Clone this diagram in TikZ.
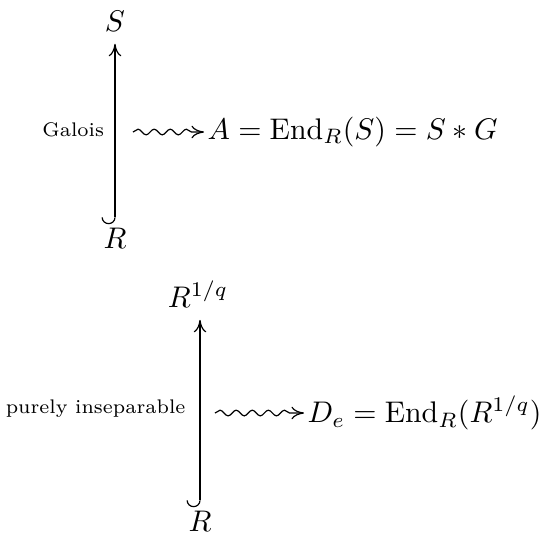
\documentclass[tikz,border=0pt]{standalone}
\usepackage{amsmath,amssymb}
\usetikzlibrary{arrows.meta,decorations.pathmorphing,positioning}

\begin{document}
\begin{tikzpicture}[
    x=0.335pt, y=-0.335pt,
    >={To[length=4.2pt, width=4.2pt]},
    obj/.style={inner sep=1pt},
    expr/.style={inner sep=1pt, anchor=west},
    lbl/.style={font=\fontsize{6.6}{8}\selectfont, inner sep=1pt},
    incl/.style={{Hooks[right, width=9pt, length=2.3pt]}->, shorten >=3pt},
    squig/.style={->, decorate, decoration={snake, amplitude=0.95pt,
                  segment length=5.4pt, post length=3pt}}
  ]
  \useasboundingbox (0,0) rectangle (547,534);
  % Galois extension
  \node[obj] (S) at (115,21) {$S$};
  \node[obj] (R) at (115,238) {$R$};
  \draw[incl] (R) -- (S) node[lbl, midway, left=2.5pt] {Galois};
  \coordinate (g) at (133,132);
  \node[expr] (A) at (204,132) {$A = \operatorname{End}_R(S) = S * G$};
  \draw[squig] (g) -- (A);

  % purely inseparable extension
  \node[obj] (Rq) at (198,294) {$R^{1/q}$};
  \node[obj] (Rb) at (200,521) {$R$};
  \draw[incl] (Rb.north) -- (Rb.north |- Rq.south)
    node[lbl, midway, left=3.7pt] {purely inseparable};
  \coordinate (p) at (215,413);
  \node[expr] (D) at (304,413) {$D_e = \operatorname{End}_R(R^{1/q})$};
  \draw[squig] (p) -- (D);
\end{tikzpicture}
\end{document}
